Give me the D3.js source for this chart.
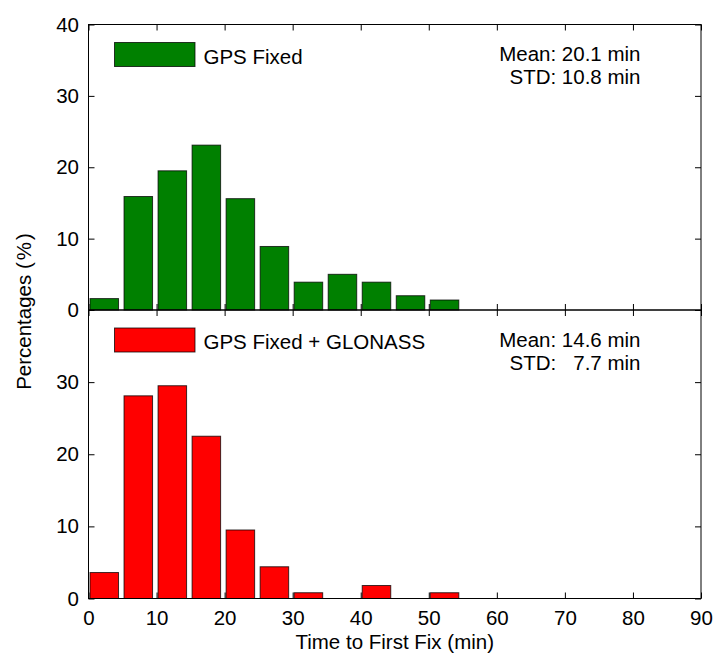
<!DOCTYPE html>
<html>
<head>
<meta charset="utf-8">
<script src="https://cdn.jsdelivr.net/npm/d3@7"></script>
<style>
  body { margin: 0; background: #fff; }
  text { font-family: "Liberation Sans", Arial, sans-serif; font-size: 20.5px; fill: #000; }
</style>
</head>
<body>
<svg id="viewport" width="713" height="657"></svg>
<script>
// bin starts (min), 5 min wide
const binStarts = [0, 5, 10, 15, 20, 25, 30, 35, 40, 45, 50, 55, 60, 65, 70, 75, 80, 85];
// percentages per bin
const gpsFixed = [1.6, 15.9, 19.5, 23.1, 15.6, 8.9, 3.9, 5.0, 3.9, 2.0, 1.4, 0, 0, 0, 0, 0, 0, 0];
const gpsGlonass = [3.6, 28.1, 29.5, 22.5, 9.5, 4.4, 0.8, 0, 1.8, 0, 0.8, 0, 0, 0, 0, 0, 0, 0];
const xTicks = [0, 10, 20, 30, 40, 50, 60, 70, 80, 90];
const yTicksTop = [0, 10, 20, 30, 40];
const yTicksBottom = [0, 10, 20, 30];

const panels = [
  { name: 'GPS Fixed', values: gpsFixed, fill: '#008000', ticks: yTicksTop,
    stats: ['Mean: 20.1 min', 'STD: 10.8 min'] },
  { name: 'GPS Fixed + GLONASS', values: gpsGlonass, fill: '#ff0000', ticks: yTicksBottom,
    stats: ['Mean: 14.6 min', 'STD:   7.7 min'] },
];

const plotLeft = 88.5, plotRight = 701, plotTop = 24.5, plotMid = 310, plotBottom = 598.5;
const binWidth = 5;

const svg = d3.select('#viewport');

const x = d3.scaleLinear().domain([0, 90]).range([plotLeft, plotRight]);
const yScales = [
  d3.scaleLinear().domain([0, 40]).range([plotMid, plotTop]),
  d3.scaleLinear().domain([0, 40]).range([plotBottom, plotMid]),
];

panels.forEach((p, i) => {
  const y = yScales[i];
  const [y0, y1] = y.range();
  const g = svg.append('g').attr('class', 'panel');

  // bars
  g.selectAll('rect.bar')
    .data(binStarts.map((s, k) => ({ s, v: p.values[k] })).filter((d) => d.v > 0))
    .join('rect')
    .attr('class', 'bar')
    .attr('x', (d) => x(d.s) + 1.5)
    .attr('width', (d) => x(d.s + binWidth) - x(d.s) - 5.5)
    .attr('y', (d) => y(d.v))
    .attr('height', (d) => y(0) - y(d.v))
    .style('fill', p.fill)
    .style('stroke', '#000')
    .style('stroke-opacity', 0.75)
    .style('stroke-width', 1);

  // box
  g.append('rect')
    .attr('x', plotLeft).attr('y', y1)
    .attr('width', plotRight - plotLeft).attr('height', y0 - y1)
    .style('fill', 'none').style('stroke', '#000').style('stroke-width', 1);

  // left axis with labels
  const ya = g.append('g')
    .attr('transform', `translate(${plotLeft},0)`)
    .call(d3.axisLeft(y).tickValues(p.ticks).tickSize(-6).tickSizeOuter(0).tickPadding(9.5));
  ya.select('.domain').remove();
  ya.selectAll('text').style('font-size', '20.5px').style('font-family', null);

  // right axis ticks
  const yr = g.append('g')
    .attr('transform', `translate(${plotRight},0)`)
    .call(d3.axisRight(y).tickValues(yTicksTop).tickSize(-6).tickSizeOuter(0).tickFormat(''));
  yr.select('.domain').remove();

  // top and bottom x ticks of the panel
  const xt = g.append('g')
    .attr('transform', `translate(0,${y1})`)
    .call(d3.axisTop(x).tickValues(xTicks).tickSize(-6).tickSizeOuter(0).tickFormat(''));
  xt.select('.domain').remove();
  const xb = g.append('g')
    .attr('transform', `translate(0,${y0})`)
    .call(d3.axisBottom(x).tickValues(xTicks).tickSize(-6).tickSizeOuter(0)
      .tickPadding(11.5).tickFormat(i === 1 ? d3.format('d') : ''));
  xb.select('.domain').remove();
  xb.selectAll('text').style('font-size', '20.5px').style('font-family', null);

  // legend
  const legTop = y1 + 18;
  g.append('rect')
    .attr('x', 114.5).attr('y', legTop)
    .attr('width', 80.5).attr('height', 24)
    .style('fill', p.fill).style('stroke', '#000').style('stroke-opacity', 0.75);
  g.append('text')
    .attr('x', 203.5).attr('y', legTop + 21)
    .text(p.name);

  // stats
  g.append('g')
    .selectAll('text')
    .data(p.stats)
    .join('text')
    .attr('x', 640.5)
    .attr('y', (d, k) => y1 + 36.5 + k * 23.3)
    .attr('text-anchor', 'end')
    .style('white-space', 'pre')
    .text((d) => d);
});

// axis titles
svg.append('text')
  .attr('x', (plotLeft + plotRight) / 2)
  .attr('y', 649)
  .attr('text-anchor', 'middle')
  .text('Time to First Fix (min)');

const yl = svg.append('text')
  .attr('transform', `translate(31,${(plotTop + plotBottom) / 2}) rotate(-90)`)
  .attr('text-anchor', 'middle');
yl.append('tspan').text('Percentages (');
yl.append('tspan').attr('dx', 2).text('%');
yl.append('tspan').attr('dx', 2).text(')');
</script>
</body>
</html>
